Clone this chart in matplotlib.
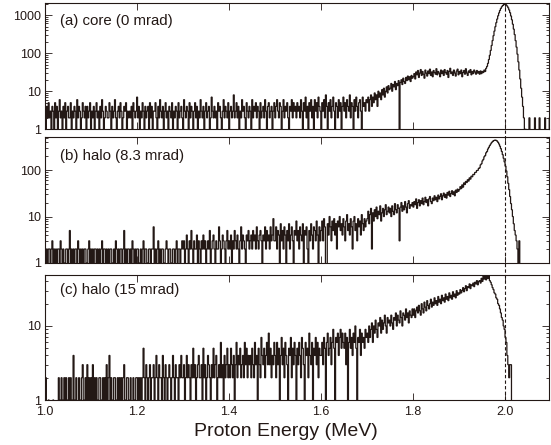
import numpy as np
import matplotlib
matplotlib.use('Agg')
import matplotlib.pyplot as plt
from matplotlib.ticker import MultipleLocator, LogLocator, FuncFormatter, NullFormatter
from matplotlib.transforms import blended_transform_factory

plt.rcParams['font.family'] = 'Liberation Sans'

# proton energy histograms, 2 keV bins starting at 1.000 MeV
bin_start = 1.0
bin_width = 0.002

counts_core = [
    # 1.000 - 1.552
    3,1,4,2,5,2,3,0,4,3,1,5,2,4,1,3,6,2,3,1,4,2,5,
    1,3,4,2,2,5,1,3,2,4,3,1,6,2,4,3,1,2,5,3,2,4,1,
    4,2,3,5,1,3,2,4,1,3,5,2,3,1,4,2,6,3,1,2,4,3,2,
    2,5,3,1,4,2,3,6,2,1,3,4,2,5,3,1,2,4,3,5,1,3,2,
    3,2,4,1,5,3,2,3,7,2,4,1,3,2,5,3,1,4,2,3,4,1,5,
    2,4,1,3,3,5,2,1,4,2,6,3,2,4,1,3,5,2,3,1,4,3,2,
    5,1,3,2,4,3,1,5,2,3,4,2,1,6,3,2,4,3,1,5,2,4,3,
    1,3,5,2,4,1,3,2,6,3,2,4,1,3,5,2,3,4,1,2,7,3,2,
    4,2,3,1,5,3,4,2,1,3,6,2,4,3,2,5,1,3,4,2,3,8,2,
    3,5,2,4,1,3,2,6,3,4,2,1,5,3,2,4,3,1,6,2,4,3,5,
    2,4,3,1,5,2,3,4,2,6,3,1,4,5,2,3,4,1,3,5,2,4,6,
    3,2,5,4,1,3,6,2,4,3,5,2,1,4,3,6,2,5,3,4,2,5,3,
    # 1.552 - 1.700
    4,2,6,3,1,5,3,7,2,4,0,5,3,6,2,4,1,6,3,5,2,7,4,3,1,
    5,3,6,2,8,4,1,5,3,6,2,4,7,3,0,5,4,2,6,3,5,1,4,7,3,
    5,2,6,4,3,8,2,5,4,1,6,3,7,4,2,5,6,3,1,7,4,5,3,6,
    # 1.700 - 1.800
    5,7,3,6,8,4,7,5,9,6,8,4,10,7,9,6,11,8,12,7,10,13,9,14,11,
    12,16,10,15,13,18,11,16,14,19,1,17,20,15,22,18,16,23,19,25,20,24,18,26,22,
    # 1.800 - 1.944
    24,29,21,32,27,35,23,30,37,26,33,28,22,36,30,25,34,29,38,26,32,24,35,31,28,
    39,27,33,30,24,36,29,34,26,37,31,28,35,23,33,40,29,32,26,36,30,25,34,38,27,
    33,29,36,24,31,35,28,39,30,26,34,31,37,27,33,29,36,32,28,35,30,33,
    # 1.944 - 2.048 main peak
    28,34,29,33,31,36,33,40,45,54,68,88,118,159,214,287,379,494,629,784,
    955,1136,1318,1490,1645,1770,1860,1905,1892,1831,1713,1551,1359,1152,945,750,575,427,307,213,
    144,94,59,36,21,12,7,4,2,1,1,0,
    # 2.048 - 2.100
    0,0,2,0,0,0,0,0,2,0,0,0,0,2,0,0,0,0,0,2,0,0,0,0,2,0,
]

counts_halo8 = [
    # 1.000 - 1.300
    2,1,2,0,2,2,1,2,3,1,2,0,2,1,2,2,1,3,2,1,2,0,1,2,2,
    1,2,5,1,2,0,2,1,2,2,1,3,2,0,2,1,2,1,2,2,0,1,2,3,1,
    2,0,2,1,2,2,1,2,0,2,1,2,3,1,2,2,0,2,1,2,1,2,2,0,1,
    2,1,3,2,0,2,1,2,2,1,2,5,1,2,0,2,2,1,2,1,3,2,0,2,1,
    2,2,1,0,2,1,2,3,1,2,2,0,1,2,2,1,2,2,6,1,2,0,2,3,1,
    2,1,2,2,0,1,2,3,2,1,2,2,1,0,2,2,1,2,3,1,2,2,1,2,3,
    # 1.300 - 1.500
    2,3,1,2,4,2,1,3,2,5,2,1,3,2,2,4,1,3,2,1,3,2,4,2,3,
    1,2,3,2,5,1,2,3,4,2,1,3,2,2,6,3,1,2,4,3,2,1,3,5,2,
    3,2,4,1,3,2,5,3,2,4,2,1,3,6,2,4,3,2,1,4,3,5,2,3,4,
    2,5,3,4,2,6,3,2,4,5,3,1,4,3,6,2,5,3,4,2,6,3,4,9,3,
    # 1.500 - 1.600
    3,6,2,5,4,1,7,3,5,2,6,4,0,5,3,7,2,4,6,3,1,5,4,8,3,
    5,2,6,4,3,7,1,5,4,6,2,0,5,3,7,4,2,6,5,3,8,4,0,6,3,
    # 1.600 - 1.700
    5,8,3,9,6,0,0,7,4,10,6,3,8,5,9,4,7,2,8,6,10,5,7,4,9,
    6,3,8,11,5,7,4,9,6,2,8,10,5,7,3,9,6,8,4,11,7,5,9,6,8,
    # 1.700 - 1.900
    9,13,7,11,15,2,12,8,14,10,16,9,13,11,17,8,12,15,10,14,18,11,13,16,12,
    15,10,17,13,11,19,14,12,18,15,3,16,20,13,17,14,21,16,12,19,22,15,18,17,20,
    16,21,18,24,15,20,23,17,22,19,25,18,21,26,20,23,17,24,27,21,19,25,22,28,23,
    26,21,29,24,27,31,23,28,32,26,30,25,33,29,35,27,31,36,30,34,28,37,33,39,35,
    # 1.900 - 1.944
    38,44,40,48,43,53,49,57,54,62,58,68,64,74,72,81,80,89,90,98,99,109,
    # 1.944 - 2.060
    112,130,137,158,170,194,206,236,252,285,310,338,365,390,412,428,438,442,436,420,
    396,365,328,290,252,215,180,150,122,96,72,52,38,27,19,14,10,7,5,4,
    3,2,1,3,0,0,0,0,0,0,0,0,0,0,0,0,0,0,
    # 2.060 - 2.100
    0,0,0,0,0,0,0,0,0,0,0,0,0,0,0,0,0,0,0,0,
]

counts_halo15 = [
    # 1.000 - 1.100
    2,2,0,0,1,0,0,0,0,1,0,0,0,0,0,2,1,0,2,0,1,2,0,2,0,
    1,2,0,2,1,0,4,0,1,2,0,0,2,1,0,2,3,0,1,2,0,3,1,2,0,
    # 1.100 - 1.200
    2,0,3,1,2,0,2,1,0,2,2,0,1,2,0,2,1,3,0,2,4,1,2,0,1,
    2,2,0,1,2,0,2,1,2,0,2,3,1,0,2,2,0,1,2,0,0,2,1,0,2,
    # 1.200 - 1.300
    2,1,2,0,2,1,2,5,2,1,3,2,0,2,3,1,2,2,3,1,2,4,2,1,3,
    2,2,1,4,2,1,3,2,0,2,3,2,1,2,4,2,1,3,2,2,1,3,2,4,2,
    # 1.300 - 1.400
    2,3,1,2,4,2,3,2,1,3,2,5,2,3,1,2,3,4,2,2,3,1,5,2,3,
    1,2,4,3,2,1,3,2,5,2,3,4,1,2,3,2,6,2,3,1,4,2,3,5,2,
    # 1.400 - 1.500
    3,2,5,3,2,4,1,3,6,2,4,3,5,2,3,4,2,6,3,5,2,4,3,4,2,
    5,3,2,6,3,4,1,5,3,2,7,4,3,5,2,4,6,3,8,3,5,2,4,3,6,
    # 1.500 - 1.600
    4,2,6,3,5,1,4,7,3,5,2,6,4,3,0,5,4,7,2,5,3,6,4,1,5,
    3,6,4,2,7,5,3,0,6,4,5,2,8,4,3,6,1,5,4,7,3,6,2,5,4,
    # 1.600 - 1.700
    4,6,3,7,5,0,6,8,4,5,7,3,6,9,5,1,7,6,8,4,7,9,5,8,6,
    5,8,3,7,0,6,9,5,7,4,8,6,10,5,0,7,6,9,4,8,6,7,5,9,7,
    # 1.700 - 1.800
    8,6,10,7,9,11,6,10,8,12,9,7,11,10,13,8,12,9,11,14,10,8,13,11,12,
    10,14,11,9,13,12,15,10,14,12,11,16,13,10,15,14,12,17,13,15,11,16,14,13,17,
    # 1.800 - 1.900
    14,17,13,16,18,15,19,16,14,20,17,15,21,18,16,22,19,17,20,23,18,21,19,24,20,
    22,19,25,21,23,20,26,22,24,21,27,23,25,22,28,24,26,23,29,25,27,24,30,26,28,
    # 1.900 - 1.944
    27,31,28,30,33,29,32,35,30,34,33,37,32,36,35,38,34,39,37,41,36,40,
    # 1.944 - 2.018
    41,38,44,40,47,43,50,42,48,44,50,41,39,36,33,31,28,27,24,23,
    20,19,17,15,13,12,10,9,7,6,4,3,2,3,3,0,0,
    # 2.018 - 2.100
    0,0,0,0,0,0,0,0,0,0,0,0,0,0,0,0,0,0,0,0,0,0,0,0,0,0,0,0,0,0,0,0,0,0,0,0,0,0,0,0,0,
]

panel_labels = ['(a) core (0 mrad)', '(b) halo (8.3 mrad)', '(c) halo (15 mrad)']
y_tops = [2030, 516, 49.3]
ref_energy = 2.0

ink = '#231815'

fig = plt.figure(figsize=(5.51, 4.45), dpi=100)
ax1 = fig.add_axes([0.0808, 0.7094, 0.916, 0.2831])
ax2 = fig.add_axes([0.0808, 0.4090, 0.916, 0.2831])
ax3 = fig.add_axes([0.0808, 0.1011, 0.916, 0.2816])
axes = [ax1, ax2, ax3]

label_y = [0.861, 0.851, 0.88]

for ax, counts, lab, ytop, ly in zip(axes, [counts_core, counts_halo8, counts_halo15], panel_labels, y_tops, label_y):
    counts = np.array(counts, dtype=float)
    edges = bin_start + bin_width*np.arange(len(counts) + 1)
    ax.set_yscale('log')
    ax.stairs(counts, edges, baseline=None, color=ink, lw=0.9)
    ax.set_xlim(1.0, 2.096)
    ax.set_ylim(1, ytop)
    ax.xaxis.set_major_locator(MultipleLocator(0.2))
    ax.yaxis.set_major_locator(LogLocator(base=10))
    ax.yaxis.set_minor_locator(LogLocator(base=10, subs=np.arange(2, 10)))
    ax.yaxis.set_major_formatter(FuncFormatter(lambda v, p: '%g' % v))
    ax.yaxis.set_minor_formatter(NullFormatter())
    ax.tick_params(which='both', direction='in', top=True, right=True, width=0.6, colors=ink, labelsize=9)
    ax.tick_params(which='major', length=5)
    ax.tick_params(which='minor', length=2.5)
    ax.tick_params(axis='y', pad=2.2)
    ax.tick_params(axis='x', pad=4.5)
    for s in ax.spines.values():
        s.set_color(ink)
        s.set_linewidth(0.8)
    ax.text(0.0305, ly, lab, transform=ax.transAxes, fontsize=10.8, color=ink, ha='left', va='center')

ax1.tick_params(labelbottom=False)
ax2.tick_params(labelbottom=False)

# dashed marker at 2.0 MeV running through all three panels
trans = blended_transform_factory(ax3.transData, fig.transFigure)
ax3.plot([ref_energy, ref_energy], [0.1011, 0.9925], transform=trans, clip_on=False,
         color=ink, lw=0.8, linestyle=(0, (3, 2)))

ax3.set_xlabel('Proton Energy (MeV)', fontsize=14, color=ink)
ax3.xaxis.set_label_coords(0.478, -0.255)
ax3.xaxis.label.set_va('center')

plt.savefig('out.png', dpi=100)
